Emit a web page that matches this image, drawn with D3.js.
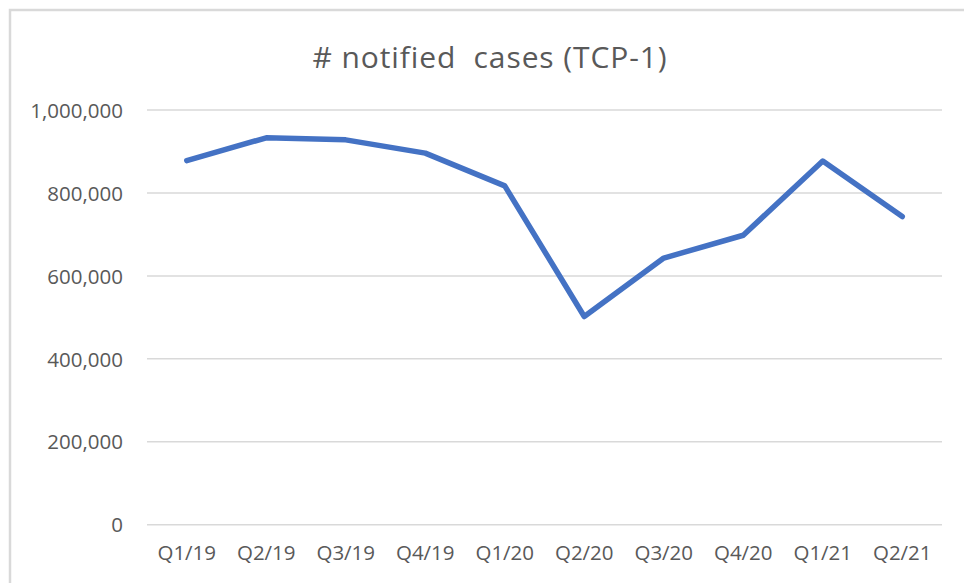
<!DOCTYPE html>
<html>
<head>
<script src="https://d3js.org/d3.v7.min.js"></script>
<title># notified cases (TCP-1)</title>
<style type="text/css">
body {
  margin: 0;
  background: #fff;
}
svg text {
  font-family: "Open Sans", sans-serif;
  fill: #595959;
}
.grid line {
  stroke: #d9d9d9;
  stroke-width: 1.5;
}
</style>
</head>
<body>
<svg id="chart"></svg>

<script>
// quarters and notified cases
var quarters = ["Q1/19", "Q2/19", "Q3/19", "Q4/19", "Q1/20", "Q2/20", "Q3/20", "Q4/20", "Q1/21", "Q2/21"];
var cases = [878000, 933000, 928000, 896000, 817000, 502000, 643000, 698000, 877000, 743000];
var yTicks = [0, 200000, 400000, 600000, 800000, 1000000];
var title = "# notified\u00a0 cases (TCP-1)";

var width = 964,
    height = 583;

var margin = {top: 110, right: 22, bottom: 57, left: 147};

var svg = d3.select("#chart")
  .attr("width", width)
  .attr("height", height);

// outer chart frame
svg.append("rect")
  .attr("x", 10)
  .attr("y", 10)
  .attr("width", width + 20)
  .attr("height", height + 20)
  .attr("fill", "none")
  .attr("stroke", "#d9d9d9")
  .attr("stroke-width", 2.5);

svg.append("text")
  .attr("x", 490)
  .attr("y", 68)
  .attr("text-anchor", "middle")
  .style("font-size", "30px")
  .style("letter-spacing", "0.9px")
  .text(title);

var x = d3.scaleBand()
  .domain(quarters)
  .range([margin.left, width - margin.right]);

var y = d3.scaleLinear()
  .domain([0, 1000000])
  .range([height - margin.bottom - 1.3, margin.top]);

// gridlines
svg.append("g")
  .attr("class", "grid")
  .selectAll("line")
  .data(yTicks)
  .enter().append("line")
    .attr("x1", margin.left)
    .attr("x2", width - margin.right)
    .attr("y1", function(d) { return y(d); })
    .attr("y2", function(d) { return y(d); });

var yAxis = svg.append("g")
  .attr("transform", "translate(" + (margin.left - 21) + ",0)")
  .call(d3.axisLeft(y).tickValues(yTicks).tickFormat(d3.format(",")).tickSize(0));
yAxis.select(".domain").remove();
yAxis.selectAll("text")
  .style("font-size", "20.5px")
  .attr("dy", "0.35em");

var xAxis = svg.append("g")
  .attr("transform", "translate(0," + y(0) + ")")
  .call(d3.axisBottom(x).tickSize(0));
xAxis.select(".domain").remove();
xAxis.selectAll("text")
  .style("font-size", "20.5px")
  .attr("dy", "1.6em");

var line = d3.line()
  .x(function(d, i) { return x(quarters[i]) + x.bandwidth() / 2; })
  .y(function(d) { return y(d); });

svg.append("path")
  .datum(cases)
  .attr("d", line)
  .attr("fill", "none")
  .attr("stroke", "#4472c4")
  .attr("stroke-width", 5.5)
  .attr("stroke-linejoin", "round")
  .attr("stroke-linecap", "round");
</script>
</body>
</html>
